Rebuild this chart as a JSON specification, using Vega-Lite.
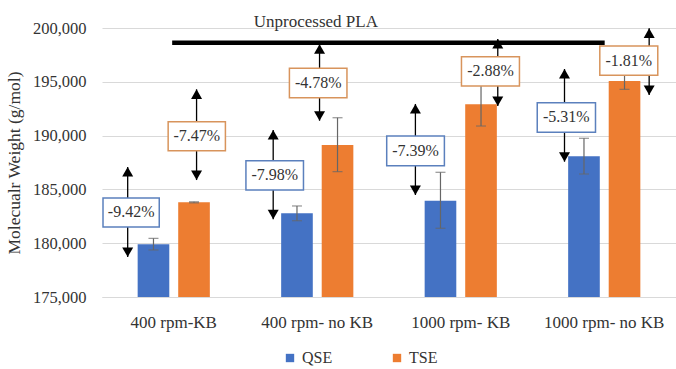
{
  "$schema": "https://vega.github.io/schema/vega-lite/v6.json",
  "autosize": {"type": "none"},
  "width": 574,
  "height": 269,
  "padding": {"left": 102, "top": 28, "right": 0, "bottom": 72},
  "background": "white",
  "config": {
    "view": {"stroke": null},
    "font": "Liberation Serif",
    "text": {"font": "Liberation Serif"},
    "axis": {"labelFont": "Liberation Serif", "titleFont": "Liberation Serif", "labelColor": "#333333", "titleColor": "#333333", "titleFontWeight": "normal"},
    "legend": {"labelFont": "Liberation Serif"}
  },
  "datasets": {
    "bars": [
      {"group": "400 rpm-KB", "series": "QSE", "mw": 179900, "lo": 179370, "hi": 180450},
      {"group": "400 rpm-KB", "series": "TSE", "mw": 183800, "lo": 183750, "hi": 183850},
      {"group": "400 rpm- no KB", "series": "QSE", "mw": 182780, "lo": 182090, "hi": 183460},
      {"group": "400 rpm- no KB", "series": "TSE", "mw": 189130, "lo": 186650, "hi": 191660},
      {"group": "1000 rpm- KB", "series": "QSE", "mw": 183950, "lo": 181385, "hi": 186590},
      {"group": "1000 rpm- KB", "series": "TSE", "mw": 192910, "lo": 190890, "hi": 194920},
      {"group": "1000 rpm- no KB", "series": "QSE", "mw": 188080, "lo": 186430, "hi": 189750},
      {"group": "1000 rpm- no KB", "series": "TSE", "mw": 195075, "lo": 194300, "hi": 195790}
    ],
    "notes": [
      {"series": "QSE", "label": "-9.42%", "ax": 0.179, "top": 187080, "bottom": 178720, "bx1": 0.007, "bx2": 0.399, "by1": 181510, "by2": 184200, "tx": 0.203, "ty": 182855},
      {"series": "TSE", "label": "-7.47%", "ax": 0.659, "top": 194300, "bottom": 185870, "bx1": 0.461, "bx2": 0.860, "by1": 188600, "by2": 191290, "tx": 0.661, "ty": 189945},
      {"series": "QSE", "label": "-7.98%", "ax": 1.193, "top": 190520, "bottom": 182220, "bx1": 1.003, "bx2": 1.404, "by1": 184945, "by2": 187670, "tx": 1.204, "ty": 186308},
      {"series": "TSE", "label": "-4.78%", "ax": 1.516, "top": 198490, "bottom": 191385, "bx1": 1.306, "bx2": 1.707, "by1": 193520, "by2": 196255, "tx": 1.507, "ty": 194888},
      {"series": "QSE", "label": "-7.39%", "ax": 2.184, "top": 192940, "bottom": 184480, "bx1": 1.984, "bx2": 2.386, "by1": 187200, "by2": 189965, "tx": 2.185, "ty": 188583},
      {"series": "TSE", "label": "-2.88%", "ax": 2.758, "top": 198980, "bottom": 192750, "bx1": 2.505, "bx2": 2.909, "by1": 194610, "by2": 197330, "tx": 2.707, "ty": 195970},
      {"series": "QSE", "label": "-5.31%", "ax": 3.223, "top": 196190, "bottom": 187575, "bx1": 3.033, "bx2": 3.439, "by1": 190310, "by2": 193060, "tx": 3.236, "ty": 191685},
      {"series": "TSE", "label": "-1.81%", "ax": 3.813, "top": 199970, "bottom": 193775, "bx1": 3.469, "bx2": 3.873, "by1": 195605, "by2": 198330, "tx": 3.671, "ty": 196968}
    ],
    "pla": [
      {"x1": 0.489, "x2": 3.503, "mw": 198630, "label": "Unprocessed PLA", "lx": 1.49, "ly": 200560}
    ]
  },
  "layer": [
    {
      "data": {"name": "bars"},
      "encoding": {
        "x": {
          "field": "group", "type": "nominal",
          "sort": ["400 rpm-KB", "400 rpm- no KB", "1000 rpm- KB", "1000 rpm- no KB"],
          "scale": {"paddingInner": 0.497, "paddingOuter": 0.2485},
          "axis": {"title": null, "labelAngle": 0, "labelFontSize": 17, "labelFont": "Liberation Serif", "ticks": false, "domain": true, "domainColor": "#d9d9d9", "domainWidth": 1, "labelPadding": 17, "grid": false}
        },
        "xOffset": {"field": "series", "type": "nominal", "sort": ["QSE", "TSE"], "scale": {"paddingInner": 0.22, "paddingOuter": 0}}
      },
      "layer": [
        {
          "mark": {"type": "bar"},
          "encoding": {
            "y": {
              "field": "mw", "type": "quantitative",
              "scale": {"domain": [175000, 200000], "zero": false, "nice": false},
              "axis": {"title": "Molecualr Weight (g/mol)", "titleFont": "Liberation Serif", "labelFont": "Liberation Serif", "titleFontSize": 17.5, "labelFontSize": 16.5, "values": [175000, 180000, 185000, 190000, 195000, 200000], "format": ",.0f", "ticks": false, "domain": false, "gridColor": "#d9d9d9", "gridWidth": 1, "labelPadding": 16, "titlePadding": 9}
            },
            "y2": {"datum": 175000},
            "color": {
              "field": "series", "type": "nominal",
              "scale": {"domain": ["QSE", "TSE"], "range": ["#4472c4", "#ed7d31"]},
              "legend": {"title": null, "orient": "none", "legendX": 180, "legendY": 322, "direction": "horizontal", "symbolType": "square", "symbolSize": 70, "symbolStrokeWidth": 0, "labelFont": "Liberation Serif", "labelFontSize": 16, "labelColor": "#333333", "labelOffset": 4, "columnPadding": 56, "padding": 0}
            }
          }
        },
        {
          "mark": {"type": "rule", "color": "#666666", "strokeWidth": 1.2},
          "encoding": {
            "y": {"field": "lo", "type": "quantitative"},
            "y2": {"field": "hi"}
          }
        },
        {
          "mark": {"type": "tick", "color": "#666666", "thickness": 1.2, "size": 10, "orient": "horizontal"},
          "encoding": {"y": {"field": "lo", "type": "quantitative"}}
        },
        {
          "mark": {"type": "tick", "color": "#666666", "thickness": 1.2, "size": 10, "orient": "horizontal"},
          "encoding": {"y": {"field": "hi", "type": "quantitative"}}
        }
      ]
    },
    {
      "layer": [
        {
          "data": {"name": "pla"},
          "mark": {"type": "rule", "color": "black", "strokeWidth": 4.5},
          "encoding": {
            "x": {"field": "x1", "type": "quantitative", "scale": {"domain": [0, 4], "nice": false, "zero": false}, "axis": null},
            "x2": {"field": "x2"},
            "y": {"field": "mw", "type": "quantitative"}
          }
        },
        {
          "data": {"name": "pla"},
          "mark": {"type": "text", "font": "Liberation Serif", "fontSize": 17, "color": "#333333", "baseline": "middle", "align": "center"},
          "encoding": {
            "x": {"field": "lx", "type": "quantitative"},
            "y": {"field": "ly", "type": "quantitative"},
            "text": {"field": "label"}
          }
        },
        {
          "data": {"name": "notes"},
          "mark": {"type": "rule", "color": "black", "strokeWidth": 1.3},
          "encoding": {
            "x": {"field": "ax", "type": "quantitative"},
            "y": {"field": "top", "type": "quantitative"},
            "y2": {"field": "bottom"}
          }
        },
        {
          "data": {"name": "notes"},
          "mark": {"type": "point", "shape": "triangle-up", "filled": true, "color": "black", "size": 121, "opacity": 1, "yOffset": 4.8},
          "encoding": {
            "x": {"field": "ax", "type": "quantitative"},
            "y": {"field": "top", "type": "quantitative"}
          }
        },
        {
          "data": {"name": "notes"},
          "mark": {"type": "point", "shape": "triangle-down", "filled": true, "color": "black", "size": 121, "opacity": 1, "yOffset": -4.8},
          "encoding": {
            "x": {"field": "ax", "type": "quantitative"},
            "y": {"field": "bottom", "type": "quantitative"}
          }
        },
        {
          "data": {"name": "notes"},
          "mark": {"type": "rect", "fill": "white", "strokeWidth": 1.5},
          "encoding": {
            "x": {"field": "bx1", "type": "quantitative"},
            "x2": {"field": "bx2"},
            "y": {"field": "by1", "type": "quantitative"},
            "y2": {"field": "by2"},
            "stroke": {"field": "series", "type": "nominal", "scale": {"domain": ["QSE", "TSE"], "range": ["#5b80bd", "#d8945c"]}, "legend": null}
          }
        },
        {
          "data": {"name": "notes"},
          "mark": {"type": "text", "font": "Liberation Serif", "fontSize": 16, "color": "#333333", "baseline": "middle", "align": "center"},
          "encoding": {
            "x": {"field": "tx", "type": "quantitative"},
            "y": {"field": "ty", "type": "quantitative"},
            "text": {"field": "label"}
          }
        }
      ]
    }
  ],
  "resolve": {"scale": {"x": "independent", "color": "independent"}, "axis": {"x": "independent"}}
}
